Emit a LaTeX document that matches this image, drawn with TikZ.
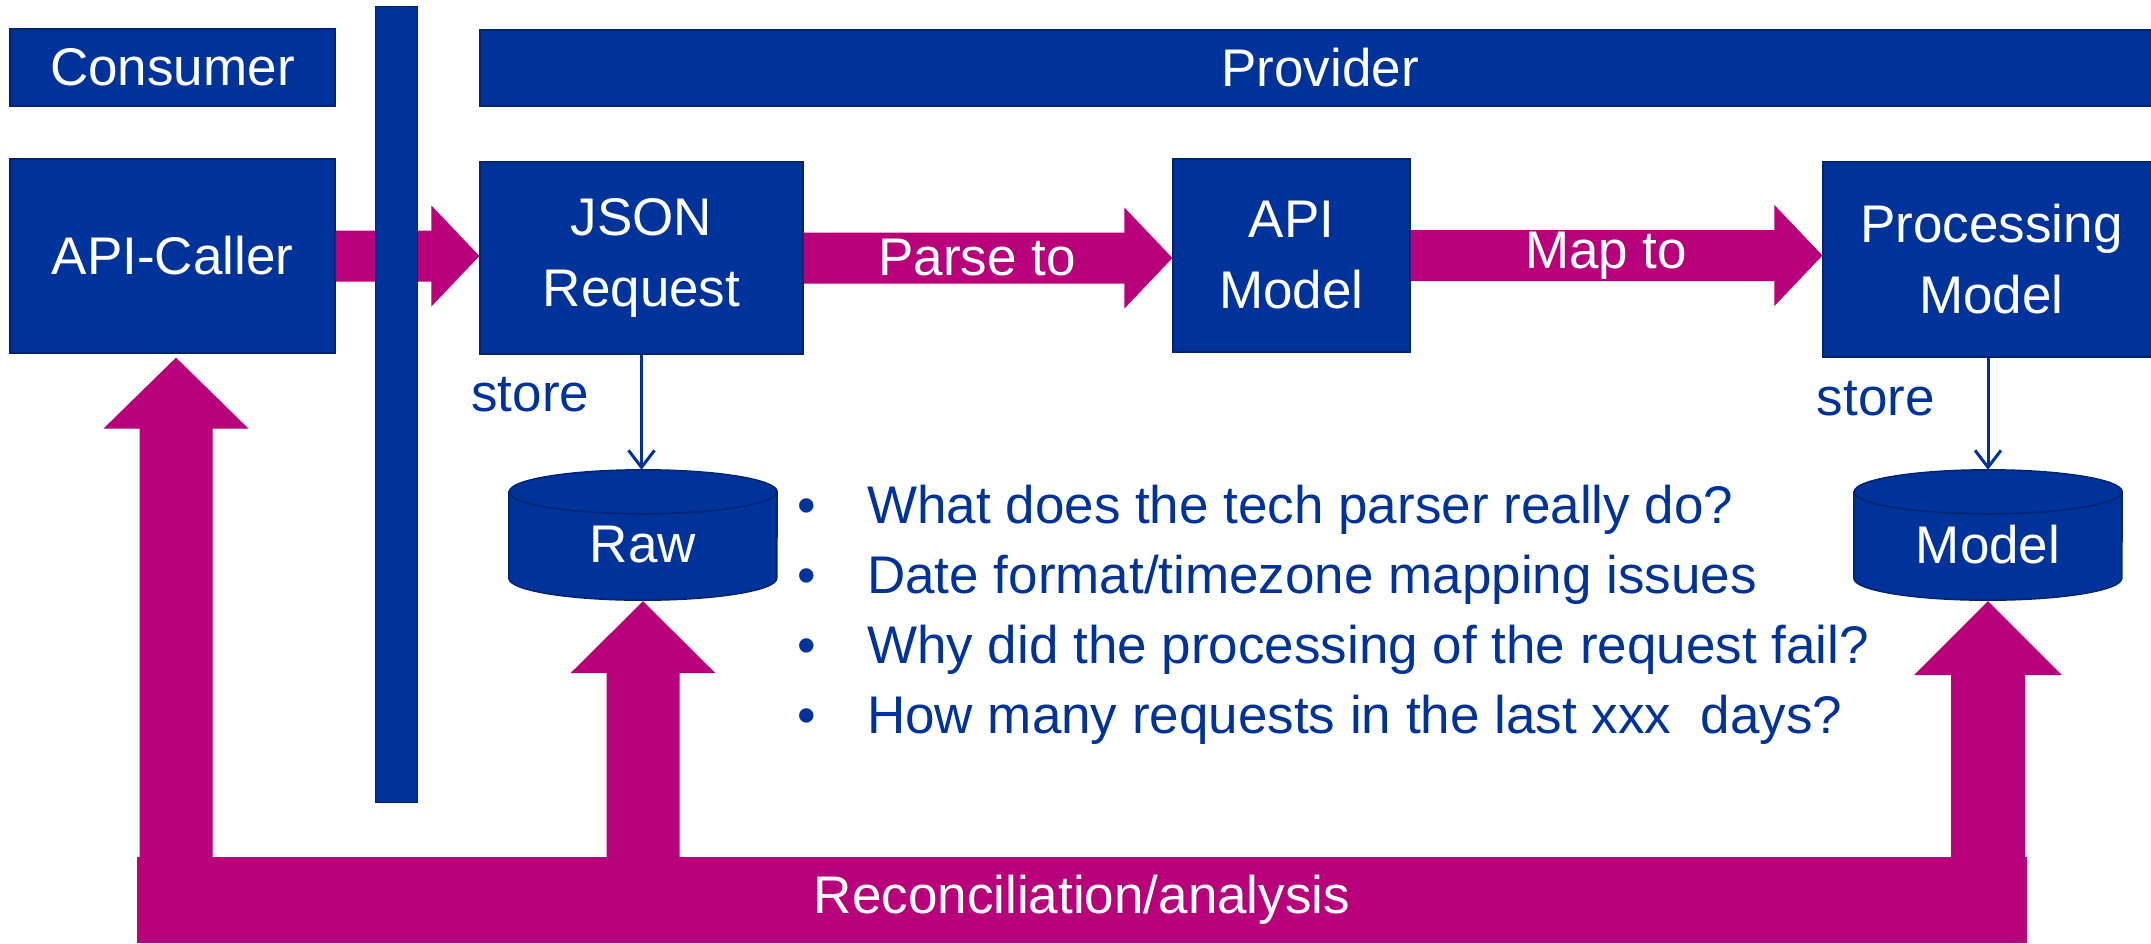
\documentclass[tikz,border=0pt]{standalone}
\usepackage{fontspec}
\setmainfont{Liberation Sans}
\usetikzlibrary{calc,arrows.meta}

\definecolor{navy}{RGB}{0,51,153}
\definecolor{navyedge}{RGB}{0,36,112}
\definecolor{berry}{RGB}{184,0,122}

\newcommand\bodyfont{\fontsize{53}{71}\selectfont}

% broad block arrow: shaft half-width, head half-width, head length, from, to
\newcommand\fatarrow[5]{%
  \coordinate (fa-s) at (#4);
  \coordinate (fa-e) at (#5);
  \coordinate (fa-h) at ($(fa-e)!#3!(fa-s)$);
  \fill[berry] ($(fa-s)!#1!90:(fa-e)$) -- ($(fa-h)!#1!90:(fa-e)$)
    -- ($(fa-h)!#2!90:(fa-e)$) -- (fa-e) -- ($(fa-h)!#2!-90:(fa-e)$)
    -- ($(fa-h)!#1!-90:(fa-e)$) -- ($(fa-s)!#1!-90:(fa-e)$) -- cycle;
}

% database drum drawn round a named rectangle
\newcommand\drum[1]{%
  \draw[fill=navy, draw=navyedge, line width=1.5pt]
    ($(#1.north west)+(0,22)$) -- ($(#1.south west)+(0,-22)$)
    arc[start angle=180, end angle=0, x radius=134, y radius=22]
    -- ($(#1.north east)+(0,22)$)
    arc[start angle=0, end angle=-180, x radius=134, y radius=22] -- cycle;
  \draw[draw=navyedge, line width=1.5pt]
    ($(#1.north west)+(0,22)$) arc[start angle=180, end angle=0, x radius=134, y radius=22];
}

\tikzset{
  box/.style={rectangle, fill=navy, draw=navyedge, line width=1.2pt,
    text=white, align=center, inner sep=0pt, font=\bodyfont},
  bar/.style={rectangle, fill=navy, draw=navyedge, line width=1pt, inner sep=0pt},
  dbarea/.style={rectangle, inner sep=0pt, minimum width=268pt, minimum height=130pt},
  dblabel/.style={text=white, font=\bodyfont, inner sep=0pt},
  storeline/.style={draw=navy, line width=3pt, -{Straight Barb[length=17pt,width=26pt,line width=3pt]}},
  storetext/.style={text=navy, font=\bodyfont, inner sep=0pt, anchor=base east},
  question/.style={text=navy, font=\bodyfont, inner sep=0pt, anchor=base west},
  arrowtext/.style={text=white, font=\bodyfont, inner sep=0pt},
  recbar/.style={rectangle, fill=berry, text=white, font=\bodyfont, inner sep=0pt}
}

\begin{document}
\begin{tikzpicture}[x=1pt, y=-1pt]
  \useasboundingbox (0,0) rectangle (2151,943);

  % header bands
  \node[box, minimum width=325pt, minimum height=77pt] (consumer) at (172.5,67.5) {Consumer};
  \node[box, minimum width=1680pt, minimum height=76pt] (provider) at (1320,68) {Provider};

  % processing chain
  \node[box, minimum width=325pt, minimum height=194pt] (caller) at (172.5,256) {API-Caller};
  \node[box, minimum width=323pt, minimum height=192pt] (json) at (641.5,258) {JSON\\Request};
  \node[box, minimum width=237pt, minimum height=193pt] (apimodel) at (1291.5,255.5) {API\\Model};
  \node[box, minimum width=337pt, minimum height=195pt] (procmodel) at (1991.5,259.5) {Processing\\Model};

  % storage
  \node[dbarea] (raw) at (643,535) {};
  \node[dbarea] (model) at (1988,535) {};
  \drum{raw}
  \drum{model}
  \node[dblabel] (rawtext) at ($(raw.center)+(0,10)$) {Raw};
  \node[dblabel] (modeltext) at ($(model.center)+(0,10)$) {Model};

  % reconciliation band
  \node[recbar, minimum width=1890pt, minimum height=86pt] (recon) at (1082,900) {Reconciliation/analysis};

  % flow arrows
  \fatarrow{25.5pt}{50.5pt}{48pt}{caller.east}{caller.east -| json.west}
  \fatarrow{25.5pt}{50.5pt}{48pt}{json.east}{json.east -| apimodel.west}
  \fatarrow{25.5pt}{50.5pt}{48pt}{apimodel.east}{apimodel.east -| procmodel.west}
  \node[arrowtext] (parse) at ($(json.east)!0.47!(json.east -| apimodel.west)$) {Parse to};
  \node[arrowtext] (map) at ($(apimodel.east)!0.475!(apimodel.east -| procmodel.west)$) {Map to};

  % analysis arrows rising from the band
  \coordinate (tipcaller) at ($(caller.south)+(3.5,4)$);
  \coordinate (tipraw) at ($(raw.south)+(0,1)$);
  \coordinate (tipmodel) at ($(model.south)+(0,1)$);
  \fatarrow{36.5pt}{72.5pt}{71pt}{recon.north -| tipcaller}{tipcaller}
  \fatarrow{36.5pt}{72.5pt}{72pt}{recon.north -| tipraw}{tipraw}
  \fatarrow{37pt}{74pt}{74pt}{recon.north -| tipmodel}{tipmodel}

  % consumer / provider divider
  \node[bar, minimum width=42pt, minimum height=796pt] (divider) at (396,404) {};

  % store links
  \draw[storeline] (json.south) -- (json.south |- raw.north);
  \draw[storeline] (model.north |- procmodel.south) -- (model.north);
  \node[storetext] (storeraw) at ($(json.south)+(-52,57)$) {store};
  \node[storetext] (storemodel) at ($(model.north |- procmodel.south)+(-53,58)$) {store};

  % open questions
  \node[question] (q1) at (797,523) {\makebox[70pt][l]{•}What does the tech parser really do?};
  \node[question] (q2) at (797,593) {\makebox[70pt][l]{•}Date format/timezone mapping issues};
  \node[question] (q3) at (797,663) {\makebox[70pt][l]{•}Why did the processing of the request fail?};
  \node[question] (q4) at (797,733) {\makebox[70pt][l]{•}How many requests in the last xxx\ \ days?};
\end{tikzpicture}
\end{document}
